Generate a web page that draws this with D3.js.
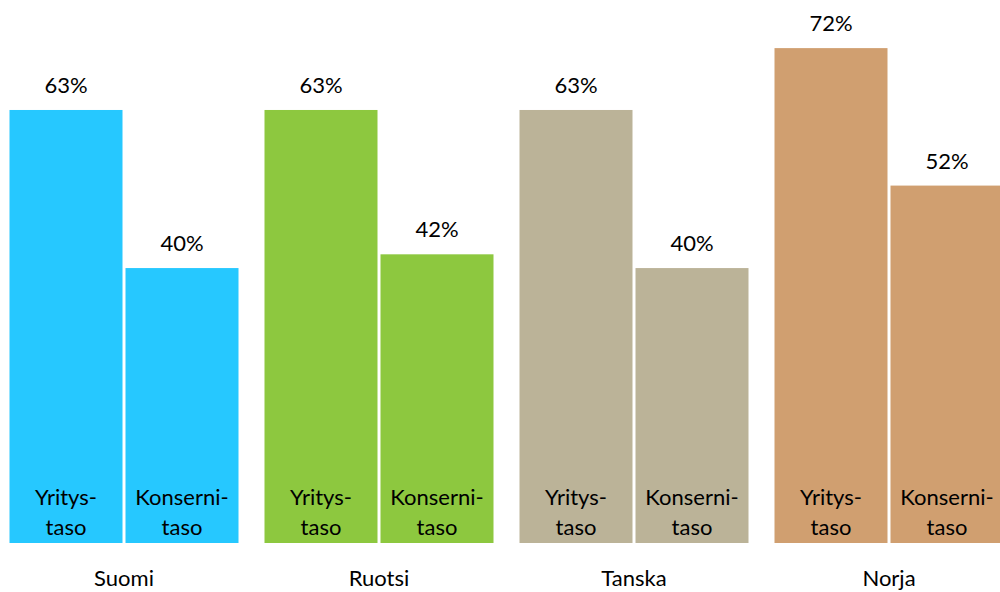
<!DOCTYPE html>
<html>
<head>
<meta charset="utf-8">
<script src="https://cdn.jsdelivr.net/npm/d3@7"></script>
<style>
  body { margin: 0; background: #fff; }
  svg text { font-family: Lato, "Open Sans", sans-serif; fill: #000; }
</style>
</head>
<body>
<script>
const countries = ['Suomi', 'Ruotsi', 'Tanska', 'Norja'];
const levels = ['Yritys-taso', 'Konserni-taso'];
const levelLines = [['Yritys-', 'taso'], ['Konserni-', 'taso']];
const yritys = [63, 63, 63, 72];
const konserni = [40, 42, 40, 52];
const colors = ['#26c8ff', '#8dc83f', '#bbb398', '#d09f70'];

const dimension = {width: 1000, height: 592};

const data = countries.map((c, i) => ({
  country: c,
  values: [yritys[i], konserni[i]],
  color: colors[i]
}));

const svg = d3.select('body')
  .append('svg')
  .attr('width', dimension.width)
  .attr('height', dimension.height);

// step 255px, group width 229px
const xScale = d3.scaleBand()
  .domain(countries)
  .range([9.5, 9.5 + 255 * (4 - 26 / 255)])
  .paddingInner(26 / 255)
  .paddingOuter(0);

const xInner = d3.scaleBand()
  .domain(levels)
  .range([0, xScale.bandwidth()])
  .paddingInner(3 / 116);

const yScale = d3.scaleLinear()
  .domain([0, 79])
  .range([543, 0]);

const groups = svg.append('g')
  .selectAll('g')
  .data(data)
  .enter()
  .append('g')
  .attr('transform', d => `translate(${xScale(d.country)},0)`);

const bars = groups.selectAll('g.bar')
  .data(d => d.values.map((v, j) => ({v, j, color: d.color})))
  .enter()
  .append('g')
  .attr('class', 'bar');

bars.append('rect')
  .attr('x', d => xInner(levels[d.j]))
  .attr('y', d => yScale(d.v))
  .attr('width', xInner.bandwidth())
  .attr('height', d => yScale(0) - yScale(d.v))
  .attr('fill', d => d.color);

bars.append('text')
  .attr('x', d => xInner(levels[d.j]) + xInner.bandwidth() / 2)
  .attr('y', d => yScale(d.v) - 17)
  .attr('text-anchor', 'middle')
  .style('font-size', '22px')
  .text(d => d.v + '%');

bars.append('text')
  .attr('text-anchor', 'middle')
  .style('font-size', '22px')
  .selectAll('tspan')
  .data(d => levelLines[d.j].map(t => ({t, x: xInner(levels[d.j]) + xInner.bandwidth() / 2})))
  .enter()
  .append('tspan')
  .attr('x', d => d.x)
  .attr('y', (d, k) => 505 + k * 30)
  .text(d => d.t);

groups.append('text')
  .attr('x', xScale.bandwidth() / 2)
  .attr('y', 586)
  .attr('text-anchor', 'middle')
  .style('font-size', '22px')
  .text(d => d.country);
</script>
</body>
</html>
